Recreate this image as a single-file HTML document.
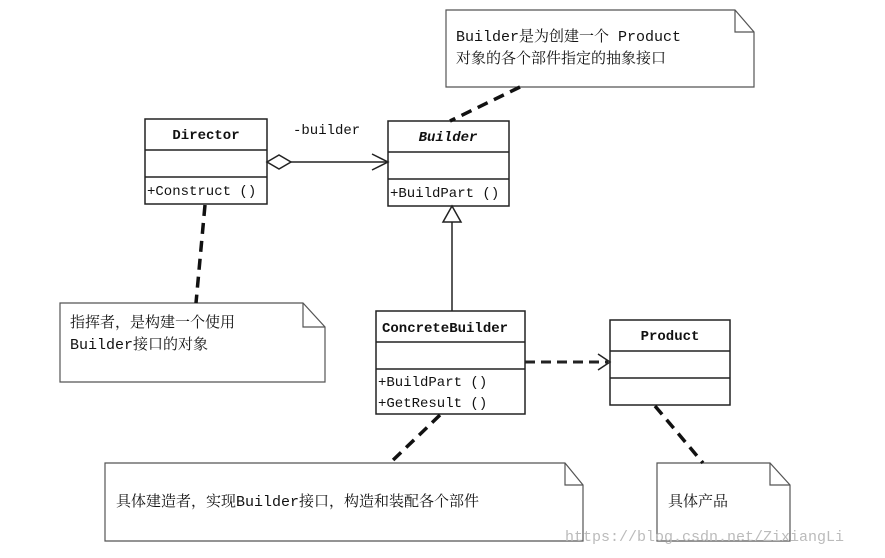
<!DOCTYPE html>
<html><head><meta charset="utf-8"><style>
body{margin:0;background:#fff}
svg text{font-family:"Liberation Mono","Noto Serif CJK SC",monospace;font-size:14px;fill:#111}
.b{font-weight:bold}
.n{font-size:15px}
</style></head><body>
<svg width="885" height="553" viewBox="0 0 885 553" xmlns="http://www.w3.org/2000/svg">
<g fill="none" stroke="#222" stroke-width="1.5">
<rect x="145" y="119" width="122" height="85"/>
<line x1="145" y1="150" x2="267" y2="150"/><line x1="145" y1="177" x2="267" y2="177"/>
<rect x="388" y="121" width="121" height="85"/>
<line x1="388" y1="152" x2="509" y2="152"/><line x1="388" y1="179" x2="509" y2="179"/>
<rect x="376" y="311" width="149" height="103"/>
<line x1="376" y1="342" x2="525" y2="342"/><line x1="376" y1="369" x2="525" y2="369"/>
<rect x="610" y="320" width="120" height="85"/>
<line x1="610" y1="351" x2="730" y2="351"/><line x1="610" y1="378" x2="730" y2="378"/>
<polygon points="267,162 279,155 291,162 279,169" fill="#fff"/>
<line x1="291" y1="162" x2="388" y2="162"/>
<polyline points="372,154 388,162 372,170"/>
<polygon points="452,206 443,222 461,222" fill="#fff"/>
<line x1="452" y1="222" x2="452" y2="311"/>
<line x1="525" y1="362" x2="608" y2="362" stroke-width="3" stroke-dasharray="10,6"/>
<polyline points="598,354 610,362 598,370"/>
<g stroke="#555" stroke-width="1.2">
<polygon points="446,10 735,10 754,32 754,87 446,87"/><polyline points="735,10 735,32 754,32"/>
<polygon points="60,303 303,303 325,327 325,382 60,382"/><polyline points="303,303 303,327 325,327"/>
<polygon points="105,463 565,463 583,485 583,541 105,541"/><polyline points="565,463 565,485 583,485"/>
<polygon points="657,463 770,463 790,485 790,541 657,541"/><polyline points="770,463 770,485 790,485"/>
</g>
<g stroke="#111" stroke-width="3.5" stroke-dasharray="11,7">
<line x1="520" y1="87" x2="450" y2="121"/>
<line x1="205" y1="205" x2="196" y2="303"/>
<line x1="440" y1="415" x2="390" y2="463"/>
<line x1="655" y1="406" x2="703" y2="463"/>
</g>
</g>
<text x="206" y="139" text-anchor="middle" class="b">Director</text>
<text x="147" y="195">+Construct ()</text>
<text x="448" y="141" text-anchor="middle" class="b" font-style="italic">Builder</text>
<text x="390" y="197">+BuildPart ()</text>
<text x="293" y="134">-builder</text>
<text x="382" y="332" class="b">ConcreteBuilder</text>
<text x="378" y="386">+BuildPart ()</text>
<text x="378" y="407">+GetResult ()</text>
<text x="670" y="340" text-anchor="middle" class="b">Product</text>
<text x="456" y="41" class="n">Builder是为创建一个 Product</text>
<text x="456" y="63" class="n">对象的各个部件指定的抽象接口</text>
<text x="70" y="327" class="n">指挥者，是构建一个使用</text>
<text x="70" y="349" class="n">Builder接口的对象</text>
<text x="116" y="506" class="n">具体建造者，实现Builder接口，构造和装配各个部件</text>
<text x="668" y="506" class="n">具体产品</text>
<text x="565" y="541" style="fill:#bbb;font-size:15px">https://blog.csdn.net/ZixiangLi</text>
</svg>
</body></html>
